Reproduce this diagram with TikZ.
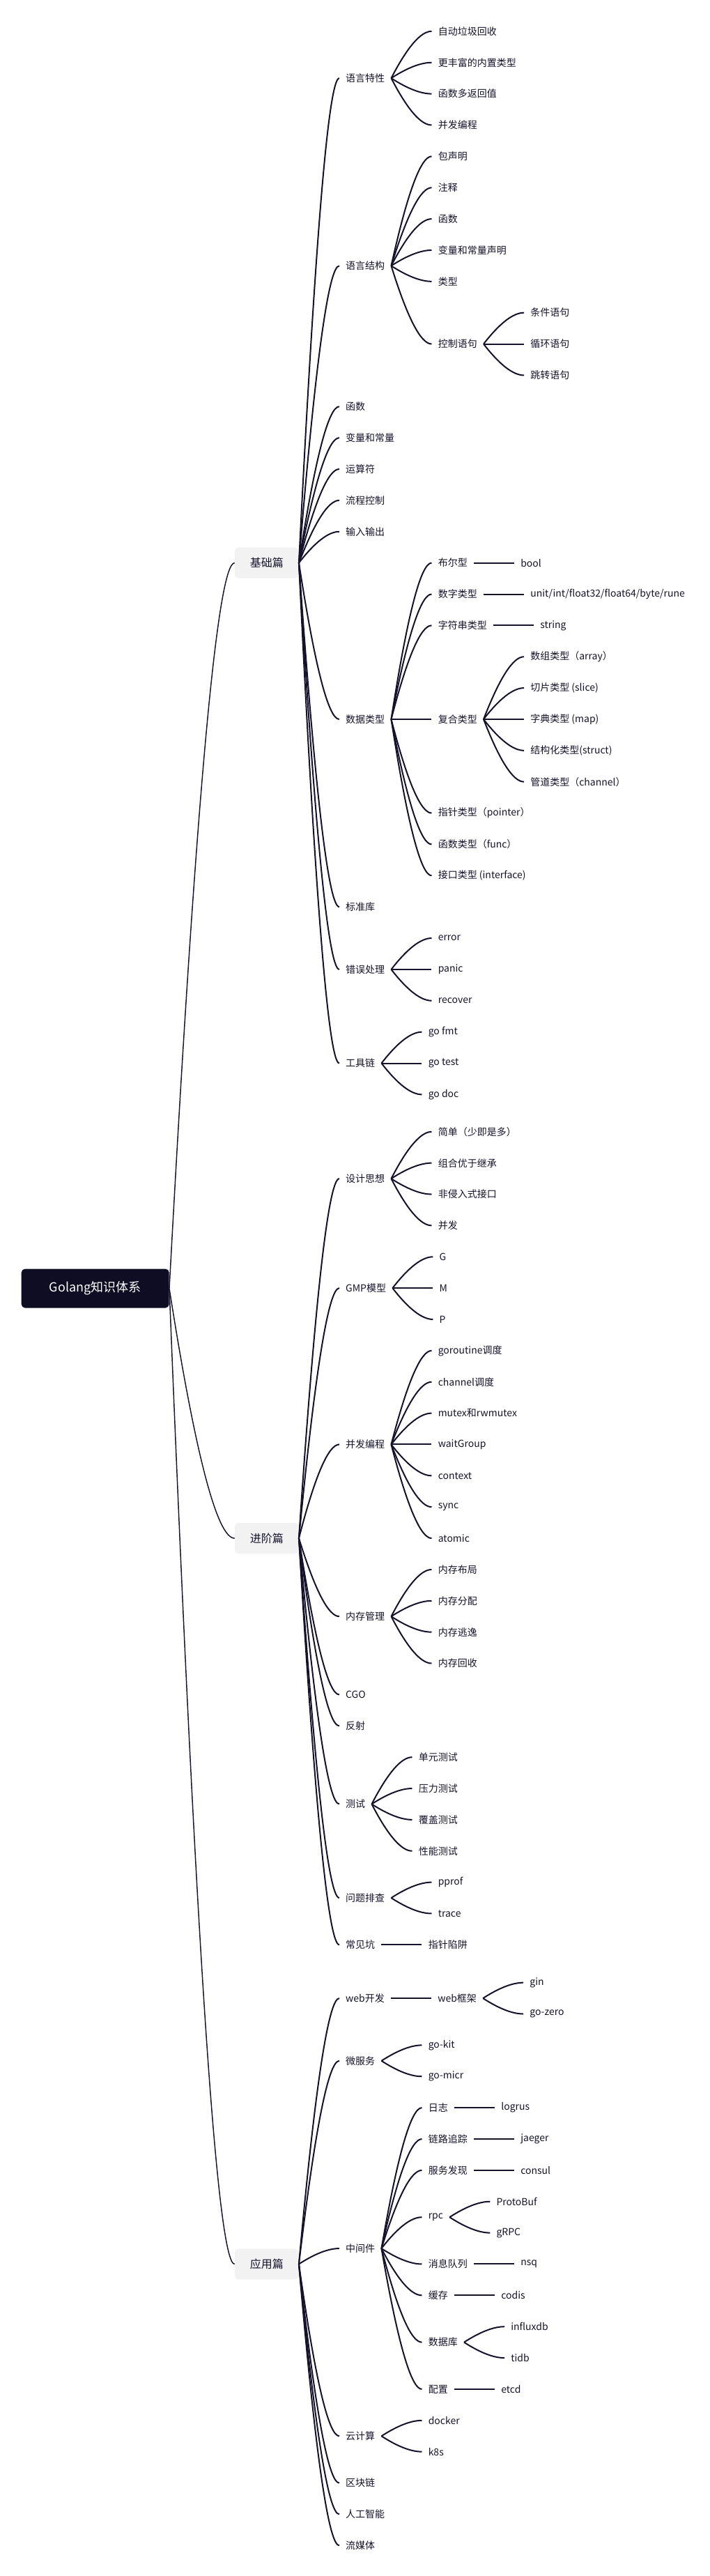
\documentclass[tikz,border=0pt]{standalone}
\usepackage{fontspec}
\setmainfont{Noto Sans CJK SC}
\usetikzlibrary{calc}

\definecolor{ink}{HTML}{15132B}
\definecolor{rootfill}{HTML}{0F0D24}
\definecolor{partfill}{HTML}{F2F2F3}

\tikzset{
  rootbox/.style={fill=rootfill, text=white, rounded corners=4pt, minimum width=159pt, minimum height=42pt, font=\fontsize{13.5pt}{16pt}\selectfont},
  partbox/.style={fill=partfill, text=ink, rounded corners=4pt, minimum width=68.8pt, minimum height=33pt, font=\fontsize{12pt}{14pt}\selectfont},
  topic/.style={anchor=west, xshift=43.5pt, inner xsep=6.75pt, inner ysep=2pt, text=ink, font=\fontsize{10.5pt}{12pt}\selectfont},
  branch/.style={draw=ink, line width=1.5pt, to path={let \p1=(\tikztostart), \p2=(\tikztotarget) in .. controls ({\x1+0.4*(\x2-\x1)}, {\y1+0.667*(\y2-\y1)}) and ({\x2-0.267*(\x2-\x1)}, \y2) .. (\tikztotarget)}},
  trunk/.style={branch, line width=1.1pt}
}

\begin{document}
\begin{tikzpicture}[x=0.75pt, y=-33.65pt]
\useasboundingbox (0,0) rectangle (1018,82.375);

\node[rootbox] (root) at (136.7,41.2) {Golang知识体系};
\node[partbox] (jc) at (382.8,18) {基础篇};
\node[partbox] (jj) at (382.8,49.19) {进阶篇};
\node[partbox] (yy) at (382.8,72.4) {应用篇};

% 基础篇
\node[topic] (tx) at (jc.east |- 0,2.5) {语言特性};
\node[topic] (tx1) at (tx.east |- 0,1) {自动垃圾回收};
\node[topic] (tx2) at (tx.east |- 0,2) {更丰富的内置类型};
\node[topic] (tx3) at (tx.east |- 0,3) {函数多返回值};
\node[topic] (tx4) at (tx.east |- 0,4) {并发编程};
\node[topic] (jg) at (jc.east |- 0,8.5) {语言结构};
\node[topic] (jg1) at (jg.east |- 0,5) {包声明};
\node[topic] (jg2) at (jg.east |- 0,6) {注释};
\node[topic] (jg3) at (jg.east |- 0,7) {函数};
\node[topic] (jg4) at (jg.east |- 0,8) {变量和常量声明};
\node[topic] (jg5) at (jg.east |- 0,9) {类型};
\node[topic] (kz) at (jg.east |- 0,11) {控制语句};
\node[topic] (kz1) at (kz.east |- 0,10) {条件语句};
\node[topic] (kz2) at (kz.east |- 0,11) {循环语句};
\node[topic] (kz3) at (kz.east |- 0,12) {跳转语句};
\node[topic] (hs) at (jc.east |- 0,13) {函数};
\node[topic] (bl) at (jc.east |- 0,14) {变量和常量};
\node[topic] (ys) at (jc.east |- 0,15) {运算符};
\node[topic] (lc) at (jc.east |- 0,16) {流程控制};
\node[topic] (sr) at (jc.east |- 0,17) {输入输出};
\node[topic] (lx) at (jc.east |- 0,23) {数据类型};
\node[topic] (lx1) at (lx.east |- 0,18) {布尔型};
\node[topic] (lx1a) at (lx1.east |- 0,18) {bool};
\node[topic] (lx2) at (lx.east |- 0,19) {数字类型};
\node[topic] (lx2a) at (lx2.east |- 0,19) {unit/int/float32/float64/byte/rune};
\node[topic] (lx3) at (lx.east |- 0,20) {字符串类型};
\node[topic] (lx3a) at (lx3.east |- 0,20) {string};
\node[topic] (fh) at (lx.east |- 0,23) {复合类型};
\node[topic] (fh1) at (fh.east |- 0,21) {数组类型（array）};
\node[topic] (fh2) at (fh.east |- 0,22) {切片类型 (slice)};
\node[topic] (fh3) at (fh.east |- 0,23) {字典类型 (map)};
\node[topic] (fh4) at (fh.east |- 0,24) {结构化类型(struct)};
\node[topic] (fh5) at (fh.east |- 0,25) {管道类型（channel）};
\node[topic] (lx4) at (lx.east |- 0,26) {指针类型（pointer）};
\node[topic] (lx5) at (lx.east |- 0,27) {函数类型（func）};
\node[topic] (lx6) at (lx.east |- 0,28) {接口类型 (interface)};
\node[topic] (bz) at (jc.east |- 0,29) {标准库};
\node[topic] (cw) at (jc.east |- 0,31) {错误处理};
\node[topic] (cw1) at (cw.east |- 0,30) {error};
\node[topic] (cw2) at (cw.east |- 0,31) {panic};
\node[topic] (cw3) at (cw.east |- 0,32) {recover};
\node[topic] (gj) at (jc.east |- 0,34) {工具链};
\node[topic] (gj1) at (gj.east |- 0,33) {go fmt};
\node[topic] (gj2) at (gj.east |- 0,34) {go test};
\node[topic] (gj3) at (gj.east |- 0,35) {go doc};

% 进阶篇
\node[topic] (sx) at (jj.east |- 0,37.69) {设计思想};
\node[topic] (sx1) at (sx.east |- 0,36.19) {简单（少即是多）};
\node[topic] (sx2) at (sx.east |- 0,37.19) {组合优于继承};
\node[topic] (sx3) at (sx.east |- 0,38.19) {非侵入式接口};
\node[topic] (sx4) at (sx.east |- 0,39.19) {并发};
\node[topic] (gmp) at (jj.east |- 0,41.19) {GMP模型};
\node[topic] (gmp1) at (gmp.east |- 0,40.19) {G};
\node[topic] (gmp2) at (gmp.east |- 0,41.19) {M};
\node[topic] (gmp3) at (gmp.east |- 0,42.19) {P};
\node[topic] (bf) at (jj.east |- 0,46.19) {并发编程};
\node[topic] (bf1) at (bf.east |- 0,43.19) {goroutine调度};
\node[topic] (bf2) at (bf.east |- 0,44.19) {channel调度};
\node[topic] (bf3) at (bf.east |- 0,45.19) {mutex和rwmutex};
\node[topic] (bf4) at (bf.east |- 0,46.19) {waitGroup};
\node[topic] (bf5) at (bf.east |- 0,47.19) {context};
\node[topic] (bf6) at (bf.east |- 0,48.19) {sync};
\node[topic] (bf7) at (bf.east |- 0,49.19) {atomic};
\node[topic] (nc) at (jj.east |- 0,51.69) {内存管理};
\node[topic] (nc1) at (nc.east |- 0,50.19) {内存布局};
\node[topic] (nc2) at (nc.east |- 0,51.19) {内存分配};
\node[topic] (nc3) at (nc.east |- 0,52.19) {内存逃逸};
\node[topic] (nc4) at (nc.east |- 0,53.19) {内存回收};
\node[topic] (cgo) at (jj.east |- 0,54.19) {CGO};
\node[topic] (fs) at (jj.east |- 0,55.19) {反射};
\node[topic] (cs) at (jj.east |- 0,57.69) {测试};
\node[topic] (cs1) at (cs.east |- 0,56.19) {单元测试};
\node[topic] (cs2) at (cs.east |- 0,57.19) {压力测试};
\node[topic] (cs3) at (cs.east |- 0,58.19) {覆盖测试};
\node[topic] (cs4) at (cs.east |- 0,59.19) {性能测试};
\node[topic] (wt) at (jj.east |- 0,60.69) {问题排查};
\node[topic] (wt1) at (wt.east |- 0,60.19) {pprof};
\node[topic] (wt2) at (wt.east |- 0,61.19) {trace};
\node[topic] (kp) at (jj.east |- 0,62.19) {常见坑};
\node[topic] (kp1) at (kp.east |- 0,62.19) {指针陷阱};

% 应用篇
\node[topic] (web) at (yy.east |- 0,63.9) {web开发};
\node[topic] (web1) at (web.east |- 0,63.9) {web框架};
\node[topic] (web1a) at (web1.east |- 0,63.4) {gin};
\node[topic] (web1b) at (web1.east |- 0,64.4) {go-zero};
\node[topic] (wf) at (yy.east |- 0,65.9) {微服务};
\node[topic] (wf1) at (wf.east |- 0,65.4) {go-kit};
\node[topic] (wf2) at (wf.east |- 0,66.4) {go-micr};
\node[topic] (zj) at (yy.east |- 0,71.9) {中间件};
\node[topic] (zj1) at (zj.east |- 0,67.4) {日志};
\node[topic] (zj1a) at (zj1.east |- 0,67.4) {logrus};
\node[topic] (zj2) at (zj.east |- 0,68.4) {链路追踪};
\node[topic] (zj2a) at (zj2.east |- 0,68.4) {jaeger};
\node[topic] (zj3) at (zj.east |- 0,69.4) {服务发现};
\node[topic] (zj3a) at (zj3.east |- 0,69.4) {consul};
\node[topic] (zj4) at (zj.east |- 0,70.9) {rpc};
\node[topic] (zj4a) at (zj4.east |- 0,70.4) {ProtoBuf};
\node[topic] (zj4b) at (zj4.east |- 0,71.4) {gRPC};
\node[topic] (zj5) at (zj.east |- 0,72.4) {消息队列};
\node[topic] (zj5a) at (zj5.east |- 0,72.4) {nsq};
\node[topic] (zj6) at (zj.east |- 0,73.4) {缓存};
\node[topic] (zj6a) at (zj6.east |- 0,73.4) {codis};
\node[topic] (zj7) at (zj.east |- 0,74.9) {数据库};
\node[topic] (zj7a) at (zj7.east |- 0,74.4) {influxdb};
\node[topic] (zj7b) at (zj7.east |- 0,75.4) {tidb};
\node[topic] (zj8) at (zj.east |- 0,76.4) {配置};
\node[topic] (zj8a) at (zj8.east |- 0,76.4) {etcd};
\node[topic] (yj) at (yy.east |- 0,77.9) {云计算};
\node[topic] (yj1) at (yj.east |- 0,77.4) {docker};
\node[topic] (yj2) at (yj.east |- 0,78.4) {k8s};
\node[topic] (qk) at (yy.east |- 0,79.4) {区块链};
\node[topic] (rg) at (yy.east |- 0,80.4) {人工智能};
\node[topic] (lm) at (yy.east |- 0,81.4) {流媒体};

% links
\foreach \dst in {jc,jj,yy}
  \draw[trunk] (root.east) to (\dst.west);
\foreach \src/\dst in {jc/tx, tx/tx1, tx/tx2, tx/tx3, tx/tx4,
    jc/jg, jg/jg1, jg/jg2, jg/jg3, jg/jg4, jg/jg5, jg/kz, kz/kz1, kz/kz2, kz/kz3,
    jc/hs, jc/bl, jc/ys, jc/lc, jc/sr,
    jc/lx, lx/lx1, lx1/lx1a, lx/lx2, lx2/lx2a, lx/lx3, lx3/lx3a, lx/fh,
    fh/fh1, fh/fh2, fh/fh3, fh/fh4, fh/fh5, lx/lx4, lx/lx5, lx/lx6,
    jc/bz, jc/cw, cw/cw1, cw/cw2, cw/cw3, jc/gj, gj/gj1, gj/gj2, gj/gj3,
    jj/sx, sx/sx1, sx/sx2, sx/sx3, sx/sx4, jj/gmp, gmp/gmp1, gmp/gmp2, gmp/gmp3,
    jj/bf, bf/bf1, bf/bf2, bf/bf3, bf/bf4, bf/bf5, bf/bf6, bf/bf7,
    jj/nc, nc/nc1, nc/nc2, nc/nc3, nc/nc4, jj/cgo, jj/fs,
    jj/cs, cs/cs1, cs/cs2, cs/cs3, cs/cs4, jj/wt, wt/wt1, wt/wt2, jj/kp, kp/kp1,
    yy/web, web/web1, web1/web1a, web1/web1b, yy/wf, wf/wf1, wf/wf2,
    yy/zj, zj/zj1, zj1/zj1a, zj/zj2, zj2/zj2a, zj/zj3, zj3/zj3a,
    zj/zj4, zj4/zj4a, zj4/zj4b, zj/zj5, zj5/zj5a, zj/zj6, zj6/zj6a,
    zj/zj7, zj7/zj7a, zj7/zj7b, zj/zj8, zj8/zj8a,
    yy/yj, yj/yj1, yj/yj2, yy/qk, yy/rg, yy/lm}
  \draw[branch] (\src.east) to (\dst.west);
\end{tikzpicture}
\end{document}
